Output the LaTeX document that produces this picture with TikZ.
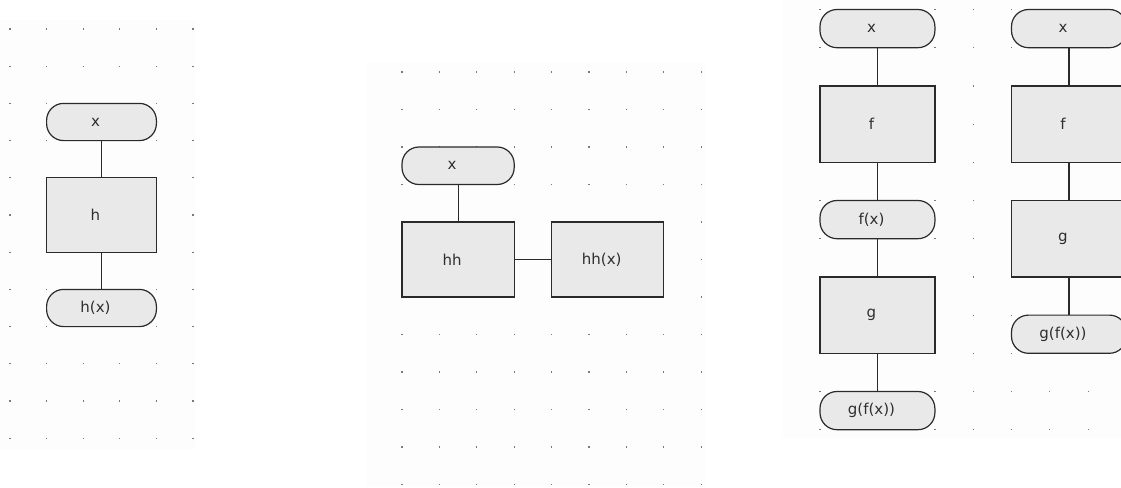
\documentclass[tikz,border=0pt]{standalone}
\usepackage{fontspec}
\newfontfamily\dvsans{DejaVu Sans}
\definecolor{nodefill}{HTML}{E9E9E9}
\definecolor{edgec}{HTML}{2A2A2A}
\definecolor{txtc}{HTML}{2E2E2E}
\definecolor{panelbg}{HTML}{FDFDFD}
\definecolor{dotc}{HTML}{7A7A7A}
\tikzset{
  base/.style={draw=edgec, fill=nodefill, line width=1.2pt, text=txtc,
    font=\dvsans\fontsize{15}{17}\selectfont, inner sep=0pt,
    execute at end node={\hspace{12pt}}},
  term/.style={base, rectangle, rounded corners=17pt},
  proc/.style={base, rectangle},
  wire/.style={draw=edgec, line width=1.2pt},
}
\newcommand\dotgrid[6]{%
  \foreach \i in {0,...,#5}{\foreach \j in {0,...,#6}{%
    \fill[dotc] ({#1+\i*#3-0.6},{#2+\j*#4-0.6}) rectangle ++(1.2,1.2);}}}
\begin{document}
\begin{tikzpicture}[x=1pt,y=-1pt]
\useasboundingbox (0,0) rectangle (1121,487);
\begin{scope}
\clip (0,0) rectangle (1121,487);
% panel backgrounds
\fill[panelbg] (0,20) rectangle (195,450);
\fill[panelbg] (366,62) rectangle (706,487);
\fill[panelbg] (783,0) rectangle (1121,438);
% dot grids
\dotgrid{10}{29}{36.6}{37.2}{5}{11}
\dotgrid{402}{72}{37.4}{37.5}{8}{11}
\dotgrid{820}{9.5}{38.3}{38.2}{8}{11}
\fill[dotc] (474.4,175.4) rectangle ++(1.2,1.2);
\end{scope}

% panel 1
\node[term, minimum width=109.8pt, minimum height=37.2pt] (p1x) at (101.5,122) {x};
\node[proc, minimum width=109.8pt, minimum height=74.4pt] (p1h) at (101.5,215) {h};
\node[term, minimum width=109.8pt, minimum height=37.2pt] (p1hx) at (101.5,308) {h(x)};
\draw[wire] (p1x) -- (p1h);
\draw[wire] (p1h) -- (p1hx);

% panel 2
\node[term, minimum width=112.2pt, minimum height=37.5pt] (p2x) at (458.1,165.75) {x};
\node[proc, minimum width=112.2pt, minimum height=75pt] (p2hh) at (458.1,259.5) {hh};
\node[proc, minimum width=112.2pt, minimum height=75pt] (p2hhx) at (607.7,259.5) {hh(x)};
\draw[wire] (p2x) -- (p2hh);
\draw[wire] (p2hh) -- (p2hhx);

% panel 3, left column
\node[term, minimum width=114.9pt, minimum height=38.2pt] (p3x) at (877.45,28.6) {x};
\node[proc, minimum width=114.9pt, minimum height=76.4pt] (p3f) at (877.45,124.1) {f};
\node[term, minimum width=114.9pt, minimum height=38.2pt] (p3fx) at (877.45,219.6) {f(x)};
\node[proc, minimum width=114.9pt, minimum height=76.4pt] (p3g) at (877.45,315.1) {g};
\node[term, minimum width=114.9pt, minimum height=38.2pt] (p3gfx) at (877.45,410.6) {g(f(x))};
\draw[wire] (p3x) -- (p3f);
\draw[wire] (p3f) -- (p3fx);
\draw[wire] (p3fx) -- (p3g);
\draw[wire] (p3g) -- (p3gfx);

% panel 3, right column
\node[term, minimum width=114.9pt, minimum height=38.2pt] (p4x) at (1068.95,28.6) {x};
\node[proc, minimum width=114.9pt, minimum height=76.4pt] (p4f) at (1068.95,124.1) {f};
\node[proc, minimum width=114.9pt, minimum height=76.4pt] (p4g) at (1068.95,238.7) {g};
\node[term, minimum width=114.9pt, minimum height=38.2pt] (p4gfx) at (1068.95,334.2) {g(f(x))};
\draw[wire] (p4x) -- (p4f);
\draw[wire] (p4f) -- (p4g);
\draw[wire] (p4g) -- (p4gfx);
\end{tikzpicture}
\end{document}
